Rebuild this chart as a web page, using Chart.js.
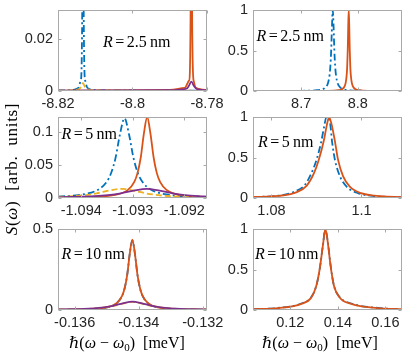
<!DOCTYPE html>
<html>
<head>
<meta charset="utf-8">
<script src="https://cdn.jsdelivr.net/npm/chart.js@4.4.0/dist/chart.umd.min.js"></script>
<style>
  html, body { margin: 0; padding: 0; background: #fff; }
  #fig { position: relative; width: 415px; height: 352px; overflow: hidden; }
  #fig canvas { position: absolute; left: 0; top: 0; }
  .lbl { position: absolute; font-family: "Liberation Serif", "DejaVu Serif", serif; font-size: 16px; color: #000; white-space: nowrap; }
  .lbl sub { font-size: 11px; vertical-align: -3px; line-height: 0; }
</style>
</head>
<body>
<div id="fig">
  <canvas id="c1" width="415" height="352"></canvas>
  <canvas id="c2" width="415" height="352"></canvas>
  <canvas id="c3" width="415" height="352"></canvas>
  <canvas id="c4" width="415" height="352"></canvas>
  <canvas id="c5" width="415" height="352"></canvas>
  <canvas id="c6" width="415" height="352"></canvas>
  <div class="lbl" id="ylab" style="left:-68px; top:159px; width:160px; text-align:center; font-size:17px; letter-spacing:0.7px; transform:rotate(-90deg);"><i>S</i>(<i>ω</i>) &nbsp;[arb. &nbsp;units]</div>
  <div class="lbl" style="left:69px; top:333px;"><i>ℏ</i>(<i>ω</i> − <i>ω</i><sub>0</sub>) &nbsp;[meV]</div>
  <div class="lbl" style="left:262px; top:333px;"><i>ℏ</i>(<i>ω</i> − <i>ω</i><sub>0</sub>) &nbsp;[meV]</div>
</div>
<script>
// colours (matlab default order)
const BLUE = "#0072BD", ORANGE = "#D95319", YELLOW = "#EDB120", PURPLE = "#7E2F8E";

// ---- R = 2.5 nm, negative branch ----
const p1Blue_x = [-8.82, -8.816, -8.8145, -8.8139, -8.8135, -8.8133, -8.8131, -8.8127, -8.8121, -8.81, -8.8, -8.79, -8.78];
const p1Blue_y = [0.0002, 0.0004, 0.0012, 0.004, 0.03, 0.5, 0.03, 0.004, 0.0012, 0.0004, 0.0002, 0.0001, 0.0001];
const p1Orange_x = [-8.82, -8.8, -8.79, -8.786, -8.7848, -8.7844, -8.7842, -8.784, -8.7836, -8.783, -8.78];
const p1Orange_y = [0.0001, 0.0002, 0.0004, 0.0012, 0.004, 0.03, 0.5, 0.03, 0.004, 0.0012, 0.0004];
const p1Yellow_x = [-8.82, -8.816, -8.8143, -8.8138, -8.8133, -8.8128, -8.8123, -8.81, -8.78];
const p1Yellow_y = [0.0001, 0.0003, 0.0008, 0.0017, 0.003, 0.0017, 0.0008, 0.0003, 0.0001];
const p1Purple_x = [-8.82, -8.79, -8.7855, -8.7849, -8.7842, -8.7835, -8.7829, -8.782, -8.78];
const p1Purple_y = [0.0001, 0.0003, 0.0009, 0.0019, 0.0036, 0.0019, 0.0009, 0.0005, 0.0003];

// ---- R = 2.5 nm, positive branch ----
const p2Blue_x = [8.615, 8.7, 8.728, 8.7418, 8.7474, 8.7502, 8.7516, 8.753, 8.7544, 8.7558, 8.7572, 8.7586, 8.76, 8.7614, 8.7642, 8.7698, 8.7838, 8.812, 8.878];
const p2Blue_y = [0.0004, 0.0025, 0.0099, 0.0385, 0.1, 0.2, 0.308, 0.5, 0.8, 1, 0.8, 0.5, 0.308, 0.2, 0.1, 0.0385, 0.0099, 0.0025, 0.0005];
const p2Orange_x = [8.615, 8.748, 8.766, 8.775, 8.7786, 8.7804, 8.7813, 8.7822, 8.7831, 8.784, 8.7849, 8.7858, 8.7867, 8.7876, 8.7894, 8.793, 8.802, 8.82, 8.878];
const p2Orange_y = [0.0001, 0.0025, 0.0099, 0.0385, 0.1, 0.2, 0.308, 0.5, 0.8, 1, 0.8, 0.5, 0.308, 0.2, 0.1, 0.0385, 0.0099, 0.0025, 0.0004];

// ---- R = 5 nm, negative branch ----
const p3Blue_x = [-1.09445, -1.094035, -1.093685, -1.09351, -1.093423, -1.093335, -1.093248, -1.09316, -1.093073, -1.092985, -1.092898, -1.09281, -1.092635, -1.092285, -1.09156];
const p3Blue_y = [0.0022, 0.0047, 0.0121, 0.0242, 0.0372, 0.0605, 0.0968, 0.121, 0.0968, 0.0605, 0.0372, 0.0242, 0.0121, 0.0047, 0.0014];
const p3Orange_x = [-1.09445, -1.09397, -1.093345, -1.093095, -1.09297, -1.092908, -1.092845, -1.092783, -1.09272, -1.092658, -1.092595, -1.092533, -1.09247, -1.092345, -1.092095, -1.09156];
const p3Orange_y = [0.00064, 0.00122, 0.00473, 0.0123, 0.0246, 0.0378, 0.0615, 0.0984, 0.123, 0.0984, 0.0615, 0.0378, 0.0246, 0.0123, 0.00473, 0.0014];
const p3Yellow_x = [-1.09445, -1.09418, -1.09394, -1.0937, -1.09346, -1.09322, -1.09298, -1.09274, -1.0925, -1.09226, -1.09156];
const p3Yellow_y = [0.00185, 0.0028, 0.00431, 0.007, 0.0112, 0.014, 0.0112, 0.007, 0.00431, 0.0028, 0.00108];
const p3Purple_x = [-1.09445, -1.09373, -1.09348, -1.09323, -1.09298, -1.09273, -1.09248, -1.09223, -1.09198, -1.09173, -1.09156];
const p3Purple_y = [0.0011, 0.0028, 0.00431, 0.007, 0.0112, 0.014, 0.0112, 0.007, 0.00431, 0.0028, 0.00216];

// ---- R = 5 nm, positive branch ----
const p4Blue_x = [1.0758, 1.0815, 1.0852, 1.0874, 1.0889, 1.09, 1.091, 1.0917, 1.0922, 1.093, 1.0935, 1.0941, 1.0952, 1.0967, 1.0992, 1.1037, 1.109];
const p4Blue_y = [0.012, 0.028, 0.08, 0.16, 0.31, 0.47, 0.68, 0.88, 1.0, 0.93, 0.68, 0.47, 0.27, 0.14, 0.06, 0.02, 0.01];
const p4Orange_x = [1.0758, 1.0815, 1.0855, 1.0878, 1.0894, 1.0905, 1.0916, 1.0923, 1.0928, 1.0934, 1.0941, 1.0948, 1.0959, 1.0974, 1.0999, 1.1043, 1.109];
const p4Orange_y = [0.012, 0.025, 0.07, 0.15, 0.3, 0.47, 0.7, 0.9, 1.0, 0.9, 0.7, 0.47, 0.27, 0.14, 0.06, 0.022, 0.012];

// ---- R = 10 nm, negative branch ----
const p5Blue_x = [-0.13652, -0.1358, -0.135, -0.13468, -0.13452, -0.13444, -0.13436, -0.13428, -0.1342, -0.13412, -0.13404, -0.13396, -0.13388, -0.13372, -0.1334, -0.1326, -0.13187];
const p5Blue_y = [0.002, 0.0043, 0.0167, 0.0435, 0.087, 0.134, 0.2175, 0.348, 0.43, 0.348, 0.2175, 0.134, 0.087, 0.0435, 0.0167, 0.0043, 0.0024];
const p5Orange_x = [-0.13652, -0.1358, -0.135, -0.13468, -0.13452, -0.13444, -0.13436, -0.13428, -0.1342, -0.13412, -0.13404, -0.13396, -0.13388, -0.13372, -0.1334, -0.1326, -0.13187];
const p5Orange_y = [0.002, 0.0043, 0.0167, 0.0435, 0.087, 0.134, 0.2175, 0.348, 0.435, 0.348, 0.2175, 0.134, 0.087, 0.0435, 0.0167, 0.0043, 0.0024];
const p5Yellow_x = [-0.13652, -0.1354, -0.1348, -0.1345, -0.1342, -0.1339, -0.1336, -0.133, -0.13187];
const p5Yellow_y = [0.0031, 0.01, 0.025, 0.04, 0.05, 0.04, 0.025, 0.01, 0.0031];
const p5Purple_x = [-0.13652, -0.1354, -0.1348, -0.1345, -0.1342, -0.1339, -0.1336, -0.133, -0.13187];
const p5Purple_y = [0.0032, 0.0104, 0.026, 0.0416, 0.052, 0.0416, 0.026, 0.0104, 0.0032];

// ---- R = 10 nm, positive branch ----
const p6Blue_x = [0.10425, 0.11478, 0.12463, 0.12884, 0.13095, 0.13234, 0.13373, 0.13474, 0.13583, 0.13697, 0.13836, 0.14076, 0.14568, 0.15688, 0.16674];
const p6Blue_y = [0.01, 0.025, 0.08, 0.16, 0.3, 0.5, 0.8, 1.0, 0.83, 0.55, 0.3, 0.16, 0.08, 0.025, 0.01];
const p6Orange_x = [0.10425, 0.11478, 0.12463, 0.12884, 0.13095, 0.13234, 0.13373, 0.13474, 0.13583, 0.13697, 0.13836, 0.14076, 0.14568, 0.15688, 0.16674];
const p6Orange_y = [0.009, 0.023, 0.075, 0.155, 0.3, 0.5, 0.8, 1.0, 0.82, 0.54, 0.3, 0.155, 0.075, 0.023, 0.009];

// axis limits and ticks
const p1X = [-8.82, -8.78], p1Y = [0, 0.031];
const p1XTicks = [-8.82, -8.8, -8.78], p1XLabels = ["-8.82", "-8.8", "-8.78"];
const p1YTicks = [0, 0.02], p1YLabels = ["0", "0.02"];
const p2X = [8.615, 8.878], p2Y = [0, 1];
const p2XTicks = [8.7, 8.8], p2XLabels = ["8.7", "8.8"];
const p2YTicks = [0, 0.5, 1], p2YLabels = ["0", "0.5", "1"];
const p3X = [-1.09445, -1.09156], p3Y = [0, 0.123];
const p3XTicks = [-1.094, -1.093, -1.092], p3XLabels = ["-1.094", "-1.093", "-1.092"];
const p3YTicks = [0, 0.05, 0.1], p3YLabels = ["0", "0.05", "0.1"];
const p4X = [1.0759, 1.109], p4Y = [0, 1];
const p4XTicks = [1.08, 1.1], p4XLabels = ["1.08", "1.1"];
const p4YTicks = [0, 0.5, 1], p4YLabels = ["0", "0.5", "1"];
const p5X = [-0.13652, -0.13187], p5Y = [0, 0.5];
const p5XTicks = [-0.136, -0.134, -0.132], p5XLabels = ["-0.136", "-0.134", "-0.132"];
const p5YTicks = [0, 0.5], p5YLabels = ["0", "0.5"];
const p6X = [0.1043, 0.167], p6Y = [0, 1];
const p6XTicks = [0.12, 0.14, 0.16], p6XLabels = ["0.12", "0.14", "0.16"];
const p6YTicks = [0, 0.5, 1], p6YLabels = ["0", "0.5", "1"];

const W = 415, H = 352, YW = 45, XH = 25;
const tickFont = { family: "'Liberation Sans', Arial, sans-serif", size: 14.5 };

function curve(xs, ys, color, dash, order) {
  return {
    data: xs.map((x, i) => ({ x: x, y: ys[i] })),
    borderColor: color,
    borderWidth: 1.8,
    borderDash: dash,
    pointRadius: 0,
    fill: false,
    cubicInterpolationMode: "monotone",
    capBezierPoints: false,
    order: order
  };
}

// box, inward tick marks and the R label
const framePlugin = {
  id: "frame",
  afterDatasetsDraw(chart, args, o) {
    const { ctx, chartArea: a, scales } = chart;
    ctx.save();
    ctx.strokeStyle = "#a9a9a9";
    ctx.lineWidth = 1;
    const l = Math.round(a.left) + 0.5, t = Math.round(a.top) + 0.5;
    const r = Math.round(a.right) - 0.5, b = Math.round(a.bottom) - 0.5;
    ctx.strokeRect(l, t, r - l, b - t);
    ctx.beginPath();
    o.xTicks.forEach(v => {
      const px = Math.round(scales.x.getPixelForValue(v)) + 0.5;
      ctx.moveTo(px, b); ctx.lineTo(px, b - 3);
      ctx.moveTo(px, t); ctx.lineTo(px, t + 3);
    });
    o.yTicks.forEach(v => {
      const py = Math.round(scales.y.getPixelForValue(v)) + 0.5;
      ctx.moveTo(l, py); ctx.lineTo(l + 3, py);
      ctx.moveTo(r, py); ctx.lineTo(r - 3, py);
    });
    ctx.stroke();

    ctx.fillStyle = "#000";
    ctx.textBaseline = "middle";
    let x = a.left + o.lx;
    const y = a.top + o.ly;
    ctx.font = "italic 16px 'Liberation Serif', serif";
    ctx.fillText("R", x, y);
    x += ctx.measureText("R").width + 2.5;
    ctx.font = "16px 'Liberation Serif', serif";
    ctx.fillText("=", x, y);
    x += ctx.measureText("=").width + 2.5;
    ctx.fillText(o.size + "\u2009nm", x, y);
    ctx.restore();
  }
};

function panel(id, box, xr, yr, xTicks, xLabels, yTicks, yLabels, datasets, lab) {
  new Chart(document.getElementById(id), {
    type: "line",
    data: { datasets: datasets },
    plugins: [framePlugin],
    options: {
      responsive: false,
      animation: false,
      events: [],
      layout: { padding: { left: box.l - YW, top: box.t, right: W - box.r, bottom: H - box.b - XH } },
      plugins: {
        legend: { display: false },
        tooltip: { enabled: false },
        frame: { xTicks: xTicks, yTicks: yTicks, lx: lab.lx, ly: lab.ly, size: lab.size }
      },
      scales: {
        x: {
          type: "linear", min: xr[0], max: xr[1],
          grid: { display: false, drawTicks: false },
          border: { display: false },
          afterBuildTicks: s => { s.ticks = xTicks.map(v => ({ value: v })); },
          afterFit: s => { s.height = XH; s.paddingLeft = 0; s.paddingRight = 0; },
          ticks: {
            autoSkip: false, maxRotation: 0, padding: 4, color: "#262626", font: tickFont,
            callback: v => xLabels[xTicks.findIndex(t => Math.abs(t - v) < 1e-9)]
          }
        },
        y: {
          type: "linear", min: yr[0], max: yr[1],
          grid: { display: false, drawTicks: false },
          border: { display: false },
          afterBuildTicks: s => { s.ticks = yTicks.map(v => ({ value: v })); },
          afterFit: s => { s.width = YW; s.paddingTop = 0; s.paddingBottom = 0; },
          ticks: {
            autoSkip: false, padding: 5, color: "#262626", font: tickFont,
            callback: v => yLabels[yTicks.findIndex(t => Math.abs(t - v) < 1e-9)]
          }
        }
      }
    }
  });
}

const L = { l: 58, r: 207 }, R = { l: 253, r: 402 };
const rows = [{ t: 10, b: 91 }, { t: 117, b: 198 }, { t: 229, b: 310 }];

panel("c1", { l: L.l, r: L.r, t: rows[0].t, b: rows[0].b }, p1X, p1Y, p1XTicks, p1XLabels, p1YTicks, p1YLabels, [
  curve(p1Blue_x, p1Blue_y, BLUE, [7, 3, 2, 3], 4),
  curve(p1Orange_x, p1Orange_y, ORANGE, [], 3),
  curve(p1Yellow_x, p1Yellow_y, YELLOW, [6, 3], 2),
  curve(p1Purple_x, p1Purple_y, PURPLE, [], 1)
], { lx: 45, ly: 33, size: "2.5" });

panel("c2", { l: R.l, r: R.r, t: rows[0].t, b: rows[0].b }, p2X, p2Y, p2XTicks, p2XLabels, p2YTicks, p2YLabels, [
  curve(p2Blue_x, p2Blue_y, BLUE, [7, 3, 2, 3], 2),
  curve(p2Orange_x, p2Orange_y, ORANGE, [], 1)
], { lx: 3.5, ly: 27, size: "2.5" });

panel("c3", { l: L.l, r: L.r, t: rows[1].t, b: rows[1].b }, p3X, p3Y, p3XTicks, p3XLabels, p3YTicks, p3YLabels, [
  curve(p3Blue_x, p3Blue_y, BLUE, [7, 3, 2, 3], 4),
  curve(p3Orange_x, p3Orange_y, ORANGE, [], 3),
  curve(p3Yellow_x, p3Yellow_y, YELLOW, [6, 3], 2),
  curve(p3Purple_x, p3Purple_y, PURPLE, [], 1)
], { lx: 3.5, ly: 18, size: "5" });

panel("c4", { l: R.l, r: R.r, t: rows[1].t, b: rows[1].b }, p4X, p4Y, p4XTicks, p4XLabels, p4YTicks, p4YLabels, [
  curve(p4Blue_x, p4Blue_y, BLUE, [7, 3, 2, 3], 2),
  curve(p4Orange_x, p4Orange_y, ORANGE, [], 1)
], { lx: 5, ly: 26, size: "5" });

panel("c5", { l: L.l, r: L.r, t: rows[2].t, b: rows[2].b }, p5X, p5Y, p5XTicks, p5XLabels, p5YTicks, p5YLabels, [
  curve(p5Blue_x, p5Blue_y, BLUE, [7, 3, 2, 3], 4),
  curve(p5Orange_x, p5Orange_y, ORANGE, [], 3),
  curve(p5Yellow_x, p5Yellow_y, YELLOW, [6, 3], 2),
  curve(p5Purple_x, p5Purple_y, PURPLE, [], 1)
], { lx: 3.5, ly: 26, size: "10" });

panel("c6", { l: R.l, r: R.r, t: rows[2].t, b: rows[2].b }, p6X, p6Y, p6XTicks, p6XLabels, p6YTicks, p6YLabels, [
  curve(p6Blue_x, p6Blue_y, BLUE, [7, 3, 2, 3], 2),
  curve(p6Orange_x, p6Orange_y, ORANGE, [], 1)
], { lx: 2, ly: 26, size: "10" });
</script>
</body>
</html>
